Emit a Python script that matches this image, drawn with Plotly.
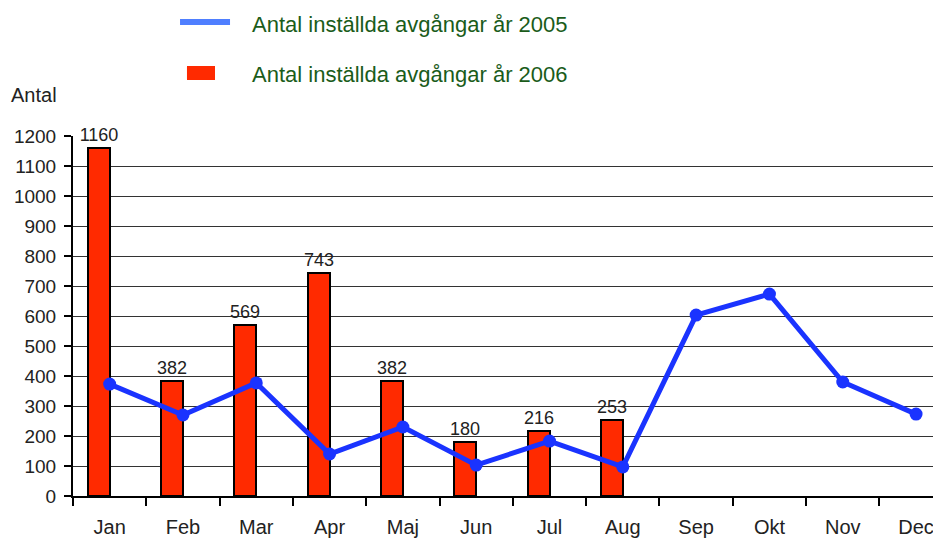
import plotly.graph_objects as go

months = ["Jan", "Feb", "Mar", "Apr", "Maj", "Jun", "Jul", "Aug", "Sep", "Okt", "Nov", "Dec"]
avg_2005 = [373, 270, 377, 140, 230, 103, 183, 97, 603, 673, 380, 273]
avg_2006 = [1160, 382, 569, 743, 382, 180, 216, 253]
name_2005 = "Antal inställda avgångar år 2005"
name_2006 = "Antal inställda avgångar år 2006"

FONT = "Liberation Sans, Arial, sans-serif"
LEGEND_FONT = dict(size=22, color="#1a5c1a", family=FONT)

fig = go.Figure()

# bars sit left of the category centre, like the Excel original
fig.add_trace(go.Bar(
    x=months[:len(avg_2006)], y=avg_2006, name=name_2006,
    width=0.3, offset=-0.3,
    marker=dict(color="#ff2a00", line=dict(color="black", width=2)),
    text=avg_2006, textposition="outside", cliponaxis=False,
    constraintext="none",
    textfont=dict(size=18, color="#222222", family=FONT),
))
fig.add_trace(go.Scatter(
    x=months, y=avg_2005, mode="lines+markers", name=name_2005,
    line=dict(color="#1a33ff", width=5),
    marker=dict(color="#1a33ff", size=13),
    cliponaxis=False,
))

# legend drawn by hand above the plot (swatch + label)
fig.add_shape(type="line", xref="paper", yref="paper",
    x0=0.1233, x1=0.1809, y0=1.3167, y1=1.3167,
    line=dict(color="#4f7fff", width=6))
fig.add_shape(type="rect", xref="paper", yref="paper",
    x0=0.1313, x1=0.1636, y0=1.1556, y1=1.1944,
    line=dict(width=0), fillcolor="#ff2a00")
fig.add_annotation(text=name_2005, xref="paper", yref="paper", x=0.204, y=1.311,
    xanchor="left", yanchor="middle", showarrow=False, font=LEGEND_FONT)
fig.add_annotation(text=name_2006, xref="paper", yref="paper", x=0.204, y=1.1722,
    xanchor="left", yanchor="middle", showarrow=False, font=LEGEND_FONT)

fig.add_annotation(text="Antal", xref="paper", yref="paper", x=-0.0737, y=1.079,
    xanchor="left", yanchor="bottom", showarrow=False,
    font=dict(size=20, color="#222222", family=FONT))

# the page body adds an 8px offset, margins below allow for it
fig.update_layout(
    width=941, height=541,
    margin=dict(l=65, r=8, t=128, b=53, autoexpand=False),
    plot_bgcolor="white", paper_bgcolor="white",
    font=dict(family=FONT, size=20, color="#222222"),
    bargap=0, showlegend=False,
)
fig.update_xaxes(
    range=[-0.5, 11.34], showline=True, linecolor="black", linewidth=2,
    ticks="outside", tickson="boundaries", ticklen=8, tickcolor="black",
    tickwidth=1.5, showgrid=False, ticklabelstandoff=12, automargin=False,
)
fig.update_yaxes(
    range=[0, 1200], dtick=100, showline=True, linecolor="black", linewidth=2,
    ticks="outside", ticklen=7, tickcolor="black", tickwidth=1.5,
    tickfont=dict(size=19),
    gridcolor="#333333", gridwidth=1, zeroline=False, ticklabelstandoff=4,
    automargin=False,
)

fig.write_html("out.html")
